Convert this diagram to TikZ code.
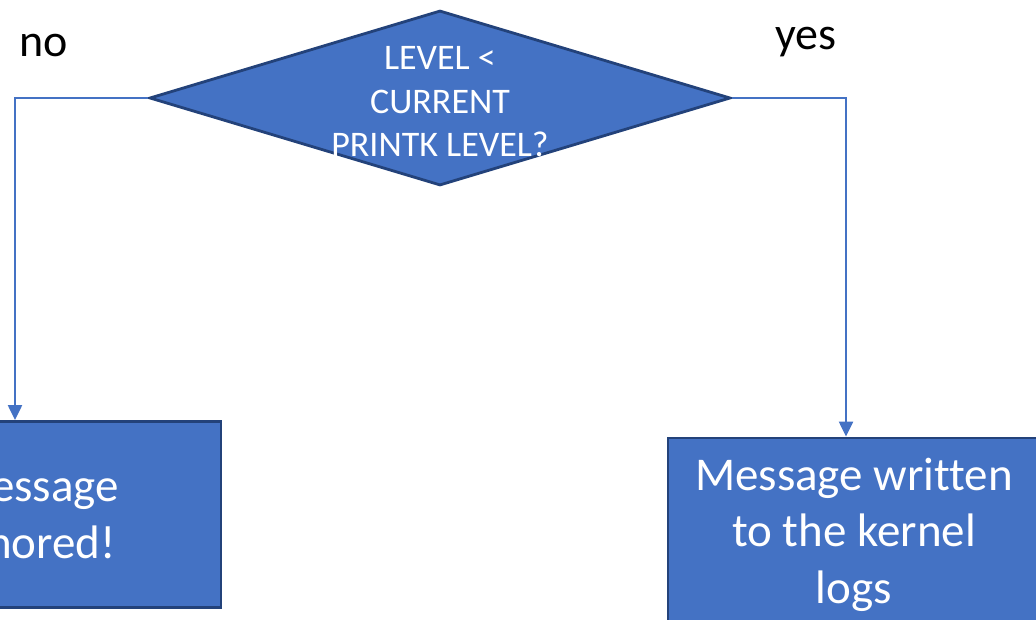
\documentclass[tikz,border=0pt]{standalone}
\usepackage{fontspec}
\setmainfont{Carlito}[Ligatures=NoCommon]
\usetikzlibrary{shapes.geometric,arrows.meta}
\definecolor{fillblue}{HTML}{4472C4}
\definecolor{edgeblue}{HTML}{23427A}
\tikzset{
  decision/.style={diamond, draw=edgeblue, fill=fillblue, line width=2.8pt,
    minimum width=581pt, minimum height=175pt, inner sep=0pt},
  procbox/.style={rectangle, draw=edgeblue, fill=fillblue, line width=2.8pt,
    minimum width=372pt, minimum height=186pt, inner sep=0pt},
  boxtext/.style={text=white, align=center, font=\fontsize{47}{56.5}\selectfont, anchor=base},
  dtext/.style={text=white, align=center, font=\fontsize{36}{43.5}\selectfont, anchor=base},
  lbl/.style={text=black, font=\fontsize{46}{55}\selectfont, anchor=base},
  conn/.style={draw=fillblue, line width=2.2pt, -{Triangle[length=15pt,width=14pt]}},
}
\begin{document}
\begin{tikzpicture}[x=1pt,y=-1pt]
\useasboundingbox (0,0) rectangle (1036,620);
\clip (0,0) rectangle (1036,620);
\node[decision] (d) at (440,98) {};
\node[dtext] (dt) at (440,157) {LEVEL <\\CURRENT\\PRINTK LEVEL?};
\node[procbox] (ign) at (35,514.5) {};
\node[boxtext] (ignt) at (35,558) {Message\\ignored!};
\node[procbox] (wr) at (854,531) {};
\node[boxtext] (wrt) at (854,603) {Message written\\to the kernel\\logs};
\node[lbl] (no) at (44,57) {no};
\node[lbl] (yes) at (806,50) {yes};
\draw[conn] (d.west) -| (ign.north -| 15,0);
\draw[conn] (d.east) -| (wr.north -| 846,0);
\end{tikzpicture}
\end{document}
